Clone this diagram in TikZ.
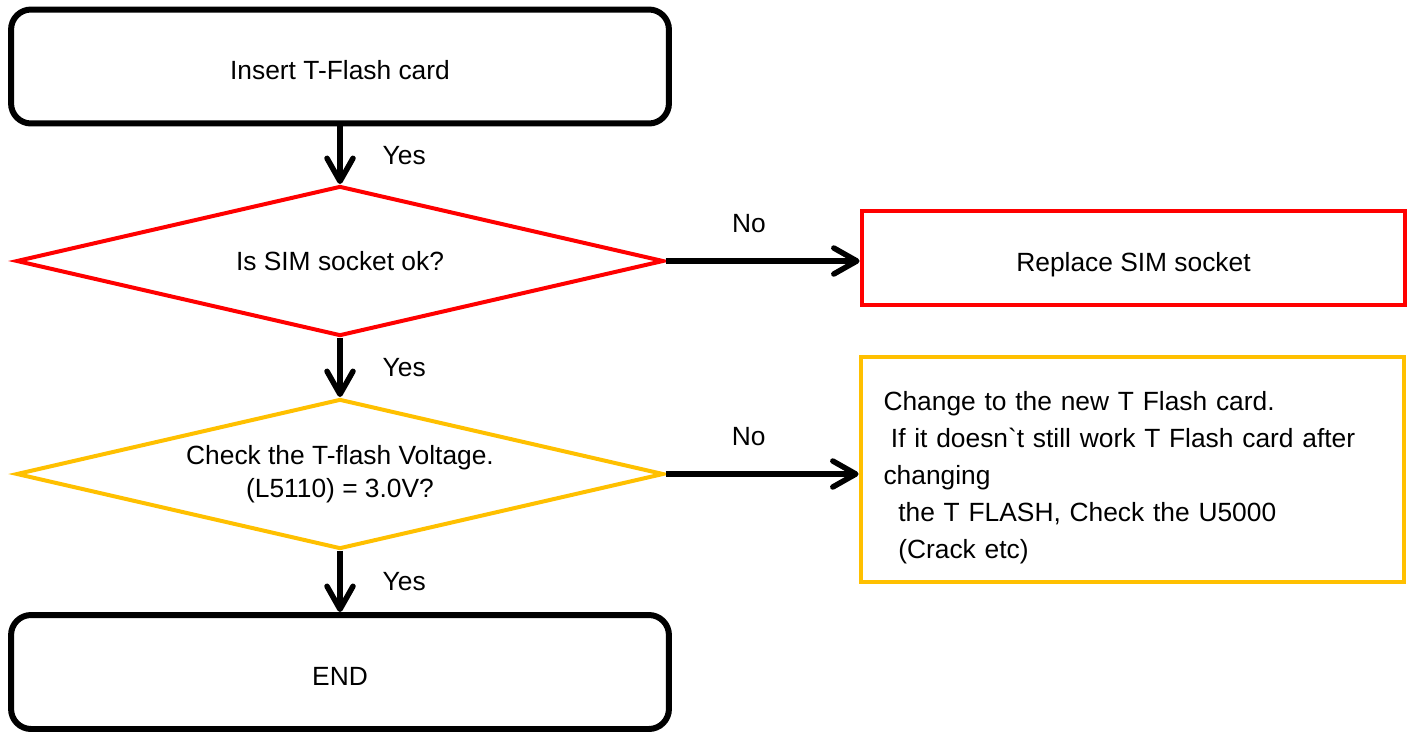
\documentclass[tikz,border=0pt]{standalone}
\usepackage{fontspec}
\setmainfont{Liberation Sans}
\usetikzlibrary{arrows.meta, shapes.geometric}

\definecolor{tfyellow}{RGB}{255,192,0}

\begin{document}
\begin{tikzpicture}[x=0.02cm, y=-0.02cm, font=\fontsize{15}{21}\selectfont,
		>={Straight Barb[length=0.46cm, width=0.52cm, round]}, line width=0.11cm,
		endbox/.style={draw, rounded corners=0.4cm, line width=0.12cm, minimum width=13.16cm, minimum height=2.28cm, text height=0.52cm, text depth=0pt},
		test/.style={draw, diamond, aspect=4.2, inner sep=0pt, line width=0.08cm, minimum width=12.95cm, minimum height=3.0cm, align=center},
		fixbox/.style={draw, rectangle, line width=0.08cm, minimum width=10.88cm},
		answer/.style={inner sep=0pt}]
		\useasboundingbox (0, 0) rectangle (1414, 731);
		
		\node[endbox] (start) at (340, 66.5) {Insert T-Flash card};
		\node[test, draw=red] (sim) at (340, 261) {Is SIM socket ok?};
		\node[test, draw=tfyellow, font=\fontsize{15}{19}\selectfont] (volt) at (340, 474) {Check the T-flash Voltage.\\(L5110) = 3.0V?};
		\node[endbox] (end) at (340, 672) {END};
		
		\node[fixbox, draw=red, minimum height=1.9cm, text height=0.52cm, text depth=0pt] (simfix) at (1133.5, 258) {Replace SIM socket};
		\node[fixbox, draw=tfyellow, minimum height=4.51cm, text width=9.96cm, inner xsep=0.46cm, align=left] (flashfix) at (1132.5, 469.75)
			{\rule{0pt}{20pt}Change to the new T Flash card.\\
			\hspace*{0.28em}If it doesn\textasciigrave t still work T Flash card after\\
			changing\\
			\hspace*{0.56em}the T FLASH, Check the U5000\\
			\hspace*{0.56em}(Crack etc)};
		
		\draw[->] (start) -- node[answer, right=0.8cm] {Yes} (sim);
		\draw[->] (sim) -- node[answer, right=0.8cm] {Yes} (volt);
		\draw[->] (volt) -- node[answer, right=0.8cm] {Yes} (end);
		\draw[->] (sim.east) -- node[answer, above=0.52cm, pos=0.43] {No} (sim.east -| simfix.west);
		\draw[->] (volt.east) -- node[answer, above=0.52cm, pos=0.43] {No} (volt.east -| flashfix.west);
	\end{tikzpicture}
\end{document}
